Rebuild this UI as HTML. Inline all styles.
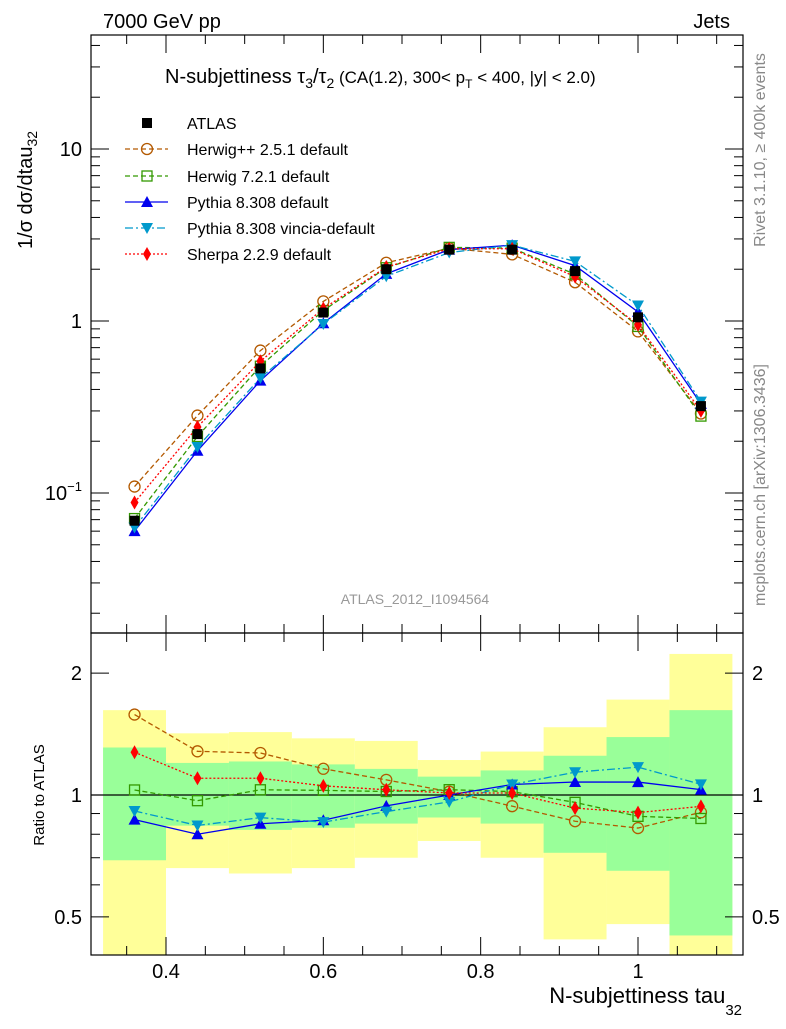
<!DOCTYPE html>
<html><head><meta charset="utf-8"><style>
body{margin:0;background:#fff}
svg{font-family:"Liberation Sans",sans-serif}
</style></head><body>
<svg id="c" width="786" height="1024" xmlns="http://www.w3.org/2000/svg">
<text x="103" y="28" font-size="20">7000 GeV pp</text>
<text x="730" y="28" font-size="20" text-anchor="end">Jets</text>
<text x="165" y="83" font-size="20">N-subjettiness τ<tspan font-size="14" dy="5">3</tspan><tspan dy="-5">/τ</tspan><tspan font-size="14" dy="5">2</tspan><tspan dy="-5" font-size="17"> (CA(1.2), 300&lt; p</tspan><tspan font-size="12" dy="5">T</tspan><tspan dy="-5" font-size="17"> &lt; 400, |y| &lt; 2.0)</tspan></text>
<text transform="translate(32,190) rotate(-90)" font-size="20" text-anchor="middle">1/σ dσ/dtau<tspan font-size="14" dy="5">32</tspan></text>
<text transform="translate(44,795) rotate(-90)" font-size="15" text-anchor="middle">Ratio to ATLAS</text>
<text transform="translate(765,150) rotate(-90)" font-size="16" fill="#888" text-anchor="middle">Rivet 3.1.10, ≥ 400k events</text>
<text transform="translate(765,485) rotate(-90)" font-size="16" fill="#888" text-anchor="middle">mcplots.cern.ch [arXiv:1306.3436]</text>
<text x="415" y="604" font-size="14" fill="#999" text-anchor="middle">ATLAS_2012_I1094564</text>
<text x="742" y="1003" font-size="22" text-anchor="end">N-subjettiness tau<tspan font-size="15" dy="12">32</tspan></text>
<g id="g"></g>
</svg>
<script>
const xCenters=[0.36,0.44,0.52,0.60,0.68,0.76,0.84,0.92,1.00,1.08];
const binLo=[0.32,0.40,0.48,0.56,0.64,0.72,0.80,0.88,0.96,1.04];
const binHi=[0.40,0.48,0.56,0.64,0.72,0.80,0.88,0.96,1.04,1.12];
const atlas=[0.069,0.22,0.53,1.12,2.0,2.6,2.6,1.95,1.05,0.32];
const herwigpp=[0.109,0.282,0.673,1.30,2.18,2.65,2.44,1.68,0.87,0.29];
const herwig7=[0.071,0.213,0.546,1.15,2.04,2.68,2.65,1.87,0.93,0.28];
const pythia=[0.060,0.176,0.45,0.97,1.88,2.6,2.76,2.1,1.13,0.33];
const vincia=[0.063,0.185,0.466,0.96,1.82,2.5,2.76,2.22,1.23,0.34];
const sherpa=[0.088,0.242,0.583,1.18,2.06,2.63,2.63,1.81,0.95,0.30];
const yellowUp=[1.62,1.42,1.43,1.38,1.36,1.22,1.28,1.47,1.72,2.23];
const yellowLo=[0.3,0.66,0.64,0.66,0.70,0.77,0.70,0.44,0.48,0.3];
const greenUp=[1.31,1.20,1.21,1.19,1.16,1.11,1.15,1.25,1.39,1.62];
const greenLo=[0.69,0.84,0.82,0.83,0.85,0.88,0.85,0.72,0.65,0.45];
const xTicks=[0.4,0.6,0.8,1.0];
const xTickLabels=["0.4","0.6","0.8","1"];

const L=91,R=743,T=35,M=633,B=955;
const X=v=>166+(v-0.4)*(638-166)/0.6;
const Y=v=>321-Math.log10(v)*172;
const YR=v=>795-Math.log10(v)*405;
const NS="http://www.w3.org/2000/svg";
const g=document.getElementById('g');
function el(t,a,p){const e=document.createElementNS(NS,t);for(const k in a)e.setAttribute(k,a[k]);(p||g).appendChild(e);return e;}
// bands
for(let i=0;i<xCenters.length;i++){
 const y1=Math.max(YR(yellowUp[i]),M),y2=Math.min(YR(yellowLo[i]),B);
 const r=el('rect',{x:X(binLo[i]),y:y1,width:X(binHi[i])-X(binLo[i]),height:y2-y1,fill:'#ffff99'});
 
 
}
for(let i=0;i<xCenters.length;i++){
 const y1=Math.max(YR(greenUp[i]),M),y2=Math.min(YR(greenLo[i]),B);
 const r=el('rect',{x:X(binLo[i]),y:y1,width:X(binHi[i])-X(binLo[i]),height:y2-y1,fill:'#99ff99'});
 
 
}
el('line',{x1:L,x2:R,y1:YR(1),y2:YR(1),stroke:'#000','stroke-width':1.2});
// frames
el('rect',{x:L,y:T,width:R-L,height:M-T,fill:'none',stroke:'#000','stroke-width':1.2});
el('rect',{x:L,y:M,width:R-L,height:B-M,fill:'none',stroke:'#000','stroke-width':1.2});
// main y ticks
for(let d=-2;d<=1;d++)for(let k=1;k<=9;k++){const v=k*Math.pow(10,d);const y=Y(v);if(y<T||y>M)continue;
 const len=k==1?18:9;el('line',{x1:L,x2:L+len,y1:y,y2:y,stroke:'#000'});el('line',{x1:R,x2:R-len,y1:y,y2:y,stroke:'#000'});}
const mainLabs=[[10,'10'],[1,'1']];
mainLabs.forEach(([v,s])=>{const t=el('text',{x:82,y:Y(v)+7,'font-size':20,'text-anchor':'end'});t.textContent=s;});
{const t=el('text',{x:82,y:Y(0.1)+7,'font-size':20,'text-anchor':'end'});t.innerHTML='10<tspan font-size="13" dy="-9">−1</tspan>';}
// ratio ticks
[0.5,0.6,0.7,0.8,0.9,1,2].forEach(v=>{const y=YR(v);const len=(v==0.5||v==1||v==2)?18:9;
 el('line',{x1:L,x2:L+len,y1:y,y2:y,stroke:'#000'});el('line',{x1:R,x2:R-len,y1:y,y2:y,stroke:'#000'});});
[[2,'2'],[1,'1'],[0.5,'0.5']].forEach(([v,s])=>{[[82,'end'],[752,'start']].forEach(([x,a])=>{const t=el('text',{x:x,y:YR(v)+7,'font-size':20,'text-anchor':a});t.textContent=s;});});
// x ticks
for(let v=0.35;v<=1.13;v+=0.05){const x=X(v);const maj=Math.abs(v*10-Math.round(v*10))<0.01&&Math.round(v*10)%2==0;const len=maj?18:9;
 [[T,1],[M,-1],[M,1],[B,-1]].forEach(([y0,s])=>el('line',{x1:x,x2:x,y1:y0,y2:y0+s*len,stroke:'#000'}));}
xTicks.forEach((v,i)=>{const t=el('text',{x:X(v),y:978,'font-size':20,'text-anchor':'middle'});t.textContent=xTickLabels[i];});
// series
function marker(type,col,x,y,parent){
 if(type=='sq')return el('rect',{x:x-5,y:y-5,width:10,height:10,fill:col},parent);
 if(type=='osq')return el('rect',{x:x-5,y:y-5,width:10,height:10,fill:'none',stroke:col,'stroke-width':1.3},parent);
 if(type=='oc')return el('circle',{cx:x,cy:y,r:5.5,fill:'none',stroke:col,'stroke-width':1.3},parent);
 if(type=='tu')return el('polygon',{points:`${x-6},${y+5} ${x+6},${y+5} ${x},${y-6}`,fill:col},parent);
 if(type=='td')return el('polygon',{points:`${x-6},${y-5} ${x+6},${y-5} ${x},${y+6}`,fill:col},parent);
 if(type=='di')return el('polygon',{points:`${x},${y-7} ${x+4},${y} ${x},${y+7} ${x-4},${y}`,fill:col},parent);
}
const series=[
 {n:'herwigpp',lab:'Herwig++ 2.5.1 default',d:herwigpp,c:'#b35900',dash:'5,3',m:'oc'},
 {n:'herwig7',lab:'Herwig 7.2.1 default',d:herwig7,c:'#339900',dash:'5,3',m:'osq'},
 {n:'pythia',lab:'Pythia 8.308 default',d:pythia,c:'#0000ee',dash:'',m:'tu'},
 {n:'vincia',lab:'Pythia 8.308 vincia-default',d:vincia,c:'#0099cc',dash:'8,3,2,3',m:'td'},
 {n:'sherpa',lab:'Sherpa 2.2.9 default',d:sherpa,c:'#ff0000',dash:'2,2',m:'di'}];
series.forEach(s=>{
 const gg=el('g',{});
 const pm=xCenters.map((x,i)=>X(x)+','+Y(s.d[i])).join(' ');
 el('polyline',{points:pm,fill:'none',stroke:s.c,'stroke-width':1.3,'stroke-dasharray':s.dash},gg);
 const pr=xCenters.map((x,i)=>X(x)+','+YR(s.d[i]/atlas[i])).join(' ');
 el('polyline',{points:pr,fill:'none',stroke:s.c,'stroke-width':1.3,'stroke-dasharray':s.dash},gg);
 xCenters.forEach((x,i)=>{const a=marker(s.m,s.c,X(x),Y(s.d[i]),gg);
  const b=marker(s.m,s.c,X(x),YR(s.d[i]/atlas[i]),gg);});
});
xCenters.forEach((x,i)=>{const a=marker('sq','#000',X(x),Y(atlas[i]));});
// legend
const lg=el('g',{});
const ly=[123,149,176,202,228,254];
marker('sq','#000',147,ly[0],lg);
{const t=el('text',{x:187,y:ly[0]+6,'font-size':16},lg);t.textContent='ATLAS';}
series.forEach((s,i)=>{const y=ly[i+1];
 el('line',{x1:125,x2:168,y1:y,y2:y,stroke:s.c,'stroke-width':1.3,'stroke-dasharray':s.dash},lg);
 marker(s.m,s.c,147,y,lg);
 const t=el('text',{x:187,y:y+6,'font-size':16},lg);t.textContent=s.lab;
 });
</script>
</body></html>
